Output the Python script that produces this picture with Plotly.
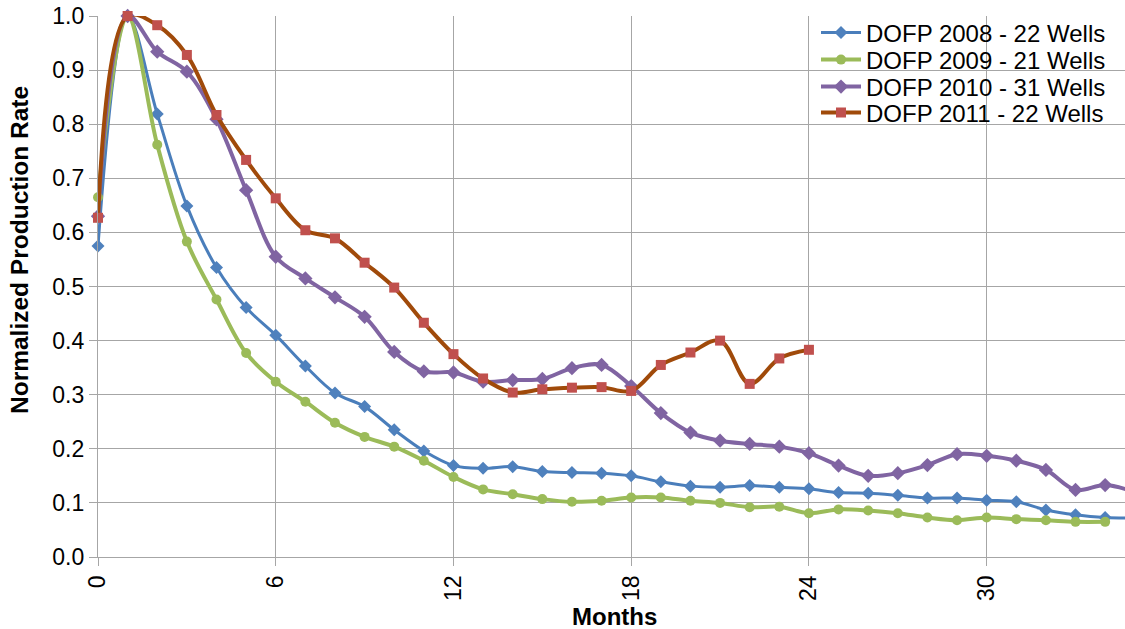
import plotly.graph_objects as go

months_2008 = list(range(0, 36))
dofp_2008 = [0.575, 1.0, 0.819, 0.649, 0.535, 0.461, 0.410, 0.353, 0.303, 0.278, 0.235,
             0.196, 0.169, 0.164, 0.167, 0.158, 0.156, 0.155, 0.150, 0.139, 0.131, 0.129,
             0.132, 0.129, 0.126, 0.119, 0.118, 0.114, 0.109, 0.109, 0.105, 0.102, 0.087,
             0.078, 0.073, 0.072]

months_2009 = list(range(0, 35))
dofp_2009 = [0.665, 1.0, 0.762, 0.583, 0.476, 0.377, 0.324, 0.287, 0.248, 0.222, 0.204,
             0.178, 0.148, 0.125, 0.116, 0.107, 0.102, 0.104, 0.110, 0.110, 0.104, 0.100,
             0.092, 0.093, 0.081, 0.088, 0.086, 0.081, 0.073, 0.068, 0.073, 0.070, 0.068,
             0.065, 0.065]

months_2010 = list(range(0, 36))
dofp_2010 = [0.630, 1.0, 0.934, 0.897, 0.809, 0.678, 0.555, 0.515, 0.480, 0.444, 0.379,
             0.343, 0.341, 0.324, 0.327, 0.329, 0.349, 0.355, 0.316, 0.266, 0.230, 0.215,
             0.209, 0.204, 0.192, 0.169, 0.150, 0.155, 0.170, 0.190, 0.187, 0.178, 0.161,
             0.124, 0.133, 0.120]

months_2011 = list(range(0, 25))
dofp_2011 = [0.627, 1.0, 0.983, 0.928, 0.817, 0.734, 0.663, 0.604, 0.589, 0.544, 0.498,
             0.433, 0.375, 0.330, 0.304, 0.310, 0.313, 0.314, 0.307, 0.355, 0.378, 0.400,
             0.320, 0.367, 0.383]

x_ticks = [0, 6, 12, 18, 24, 30]
y_ticks = [0.0, 0.1, 0.2, 0.3, 0.4, 0.5, 0.6, 0.7, 0.8, 0.9, 1.0]

FONT = "Liberation Sans, Arial, sans-serif"
GRID = "#A6A6A6"

fig = go.Figure()
series = [
    ("DOFP 2008 - 22 Wells", months_2008, dofp_2008, "#4A7EBB", 3, "#4F81BD", "diamond", 10, "legend"),
    ("DOFP 2009 - 21 Wells", months_2009, dofp_2009, "#9BBB59", 4, "#9BBB59", "circle", 10, "legend2"),
    ("DOFP 2010 - 31 Wells", months_2010, dofp_2010, "#8064A2", 4, "#8064A2", "diamond", 11, "legend3"),
    ("DOFP 2011 - 22 Wells", months_2011, dofp_2011, "#A04A0A", 4, "#C0504D", "square", 10, "legend4"),
]
for name, xs, ys, lc, lw, mc, sym, ms, lg in series:
    fig.add_trace(go.Scatter(
        x=xs, y=ys, name=name, mode="lines+markers",
        line=dict(color=lc, width=lw, shape="spline", smoothing=1.0),
        marker=dict(color=mc, symbol=sym, size=ms),
        cliponaxis=False, legend=lg,
    ))

W, H = 1125, 629
top_px, bot_px, left_px, right_px = 16, 557, 98, 1125
PW = right_px - left_px
PH = bot_px - top_px

leg_common = dict(x=(816 - left_px) / PW, xanchor="left", yanchor="middle",
                  bgcolor="rgba(0,0,0,0)", font=dict(size=24, family=FONT),
                  itemwidth=40)
row_px = [33, 60, 87, 113]
legs = {}
for key, ypx in zip(["legend", "legend2", "legend3", "legend4"], row_px):
    legs[key] = dict(leg_common, y=(bot_px - ypx) / PH)

fig.update_layout(
    width=W, height=H,
    margin=dict(l=left_px, r=W - right_px, t=top_px, b=H - bot_px, autoexpand=False),
    paper_bgcolor="white", plot_bgcolor="white",
    font=dict(family=FONT, size=24, color="black"),
    showlegend=True,
    **legs,
)
fig.update_xaxes(
    range=[0, 34.67], tickvals=x_ticks, ticktext=[str(v) for v in x_ticks],
    tickangle=-90, showgrid=True, gridcolor=GRID, gridwidth=1.3,
    showline=True, linecolor=GRID, linewidth=1.3,
    ticks="outside", ticklen=8, tickcolor=GRID, zeroline=False,
    automargin=False, tickfont=dict(size=23), ticklabeloverflow="allow",
)
fig.update_yaxes(
    range=[0, 1.0], tickvals=y_ticks, ticktext=[f"{v:.1f}" for v in y_ticks],
    showgrid=True, gridcolor=GRID, gridwidth=1.3,
    showline=True, linecolor=GRID, linewidth=1.3,
    ticks="outside", ticklen=8, tickcolor=GRID, zeroline=False,
    automargin=False, tickfont=dict(size=23), ticklabeloverflow="allow",
)
fig.add_annotation(text="<b>Months</b>", xref="paper", yref="paper",
                   x=(614 - left_px) / PW, y=(bot_px - 616) / PH, showarrow=False,
                   xanchor="center", yanchor="middle", font=dict(size=24))
fig.add_annotation(text="<b>Normalized Production Rate</b>", xref="paper", yref="paper",
                   x=(19 - left_px) / PW, y=(bot_px - 250) / PH, showarrow=False, textangle=-90,
                   xanchor="center", yanchor="middle", font=dict(size=24.5))

fig.write_html("out.html", config={"displayModeBar": False},
               post_script="document.body.style.margin='0';document.body.style.padding='0';")
